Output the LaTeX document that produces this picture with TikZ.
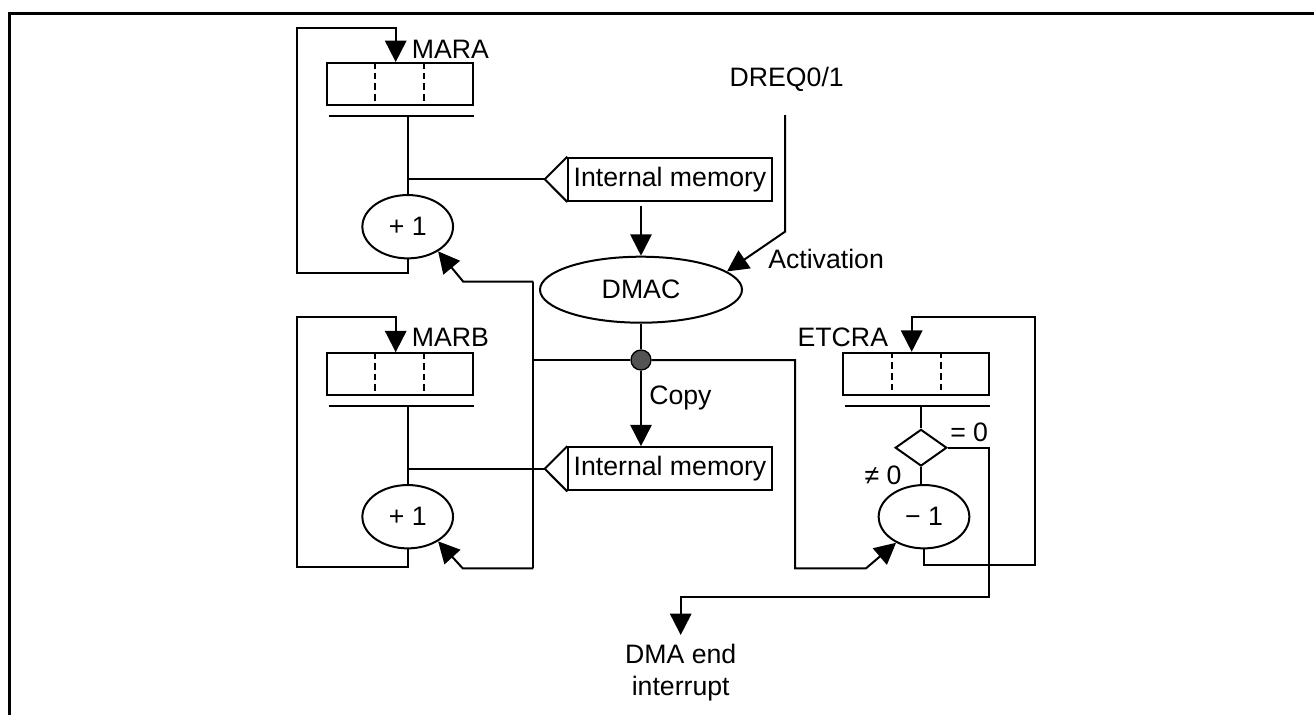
\documentclass[tikz,border=0pt]{standalone}
\usepackage{fontspec}
\setmainfont{Liberation Sans}
\usetikzlibrary{arrows.meta,calc,positioning}
\usetikzlibrary{shapes.geometric}

\tikzset{
  wire/.style={line width=1.5pt},
  arr/.style={wire,-{Triangle[length=16pt,width=16pt]}},
  reg/.style={draw,line width=1.5pt,minimum width=109.5pt,minimum height=31.5pt,inner sep=0pt},
  divider/.style={line width=1.5pt,dash pattern=on 5pt off 3pt},
  op/.style={draw,ellipse,line width=1.5pt,minimum width=68pt,minimum height=47.5pt,inner sep=0pt},
  mem/.style={draw,line width=1.5pt,minimum width=152.5pt,minimum height=32.5pt,inner sep=0pt},
  zerotest/.style={draw,diamond,line width=1.5pt,minimum width=38.7pt,minimum height=27.5pt,inner sep=0pt},
  lbl/.style={inner sep=0pt},
  dot/.style={circle,draw,fill=black!67,line width=1pt,minimum size=15pt,inner sep=0pt}
}

\begin{document}
\begin{tikzpicture}[x=0.75pt,y=-0.75pt,font=\fontsize{20}{24}\selectfont]
\useasboundingbox (0,0) rectangle (1314,715);
\draw[line width=2.25pt] (9,715) -- (9,13) -- (1314,13);

% registers, operators, memories
\node[reg] (maraReg) at (399.7,84) {};
\node[op] (maraInc) at (407.7,226.7) {+ 1};
\node[reg] (marbReg) at (399.7,374.2) {};
\node[op] (marbInc) at (407.7,516.7) {+ 1};
\node[reg] (etcraReg) at (916.2,373.8) {};
\node[zerotest] (zt) at (921,447.7) {};
\node[op] (etcraDec) at (924,516.7) {− 1};
\node[mem] (memA) at (670,179.3) {Internal memory};
\node[mem] (memB) at (670,468.8) {Internal memory};
\node[draw,ellipse,line width=1.5pt,minimum width=151.5pt,minimum height=49.5pt,inner sep=0pt] (dmac) at (641,289.7) {DMAC};
\node[dot] (jn) at (641,360) {};

% labels
\node[lbl,anchor=west] (maraLbl) at (411.7,49.3) {MARA};
\node[lbl,anchor=west] (marbLbl) at (411.7,337.3) {MARB};
\node[lbl,anchor=east] (etcraLbl) at (888.3,337.3) {ETCRA};
\node[lbl] (dreqLbl) at (786.7,79) {DREQ0/1};
\node[lbl,anchor=west] (actLbl) at (768,259) {Activation};
\node[lbl,anchor=west] (copyLbl) at (649,398) {Copy};
\node[lbl,anchor=west] (eqLbl) at (950,432.3) {= 0};
\node[lbl,anchor=east] (neLbl) at (901.7,475) {≠ 0};
\node[lbl,anchor=north,align=center,inner sep=7pt] (dmaEnd) at (680.7,635) {DMA end\\interrupt};

% register dividers and bars
\foreach \r in {maraReg,marbReg,etcraReg} {
  \foreach \f in {1/3,2/3}
    \draw[divider] ($(\r.north west)!\f!(\r.north east)$) -- ($(\r.south west)!\f!(\r.south east)$);
  \coordinate (bar\r) at ($(\r.south)+(0,10)$);
  \draw[wire] ($(\r.south west)+(3,10)$) -- ($(\r.south east)+(0,10)$);
}
% memory pointers
\foreach \m in {memA,memB}
  \draw[wire] (\m.north west) -- ($(\m.west)+(-22.6,0)$) coordinate (tip\m) -- (\m.south west);

\draw[wire] (maraInc.north |- barmaraReg) -- (maraInc.north);
\draw[wire] (maraInc.north |- tipmemA) -- (tipmemA);
\draw[wire] (marbInc.north |- barmarbReg) -- (marbInc.north);
\draw[wire] (marbInc.north |- tipmemB) -- (tipmemB);
\draw[wire] (zt.north |- baretcraReg) -- (zt.north);
\draw[wire] (zt.south) -- (zt.south |- etcraDec.north);

% loops back into the registers
\coordinate (aLoopTL) at (296.7,28.3);
\coordinate (aLoopBL) at (296.7,273);
\draw[arr] (maraInc.south) |- (aLoopBL) -- (aLoopTL) -| ($(maraReg.north)+(-4,0)$);
\coordinate (bLoopTL) at (296.7,317.3);
\coordinate (bLoopBL) at (296.7,566.7);
\draw[arr] (marbInc.south) |- (bLoopBL) -- (bLoopTL) -| ($(marbReg.north)+(-4,0)$);
\coordinate (cLoopBR) at (1035,565);
\coordinate (cLoopTR) at (1035,316.7);
\draw[arr] (etcraDec.south) |- (cLoopBR) -- (cLoopTR) -| ($(etcraReg.north)+(-4.5,0)$);

% DMAC connections
\draw[arr] ($(dmac.north |- memA.south)+(0,4)$) -- (dmac.north);
\coordinate (dreqTop) at (785,115);
\coordinate (dreqBend) at (785,231.7);
\draw[arr] (dreqTop) -- (dreqBend) -- (dmac.12);
\draw[wire] (dmac.south) -- (jn);
\draw[arr] (jn) -- (jn |- memB.north);

% bus to the counters
\coordinate (busTop) at (533.3,281.7);
\coordinate (busBot) at (533.3,568.3);
\coordinate (busR) at (795,360);
\coordinate (decFeed) at (866,568.3);
\draw[wire] (busTop) -- (busBot);
\draw[wire] (busTop |- jn) -- (jn);
\draw[arr] (busTop) -- ++(-70,0) -- (maraInc.-39);
\draw[arr] (busBot) -- ++(-70.6,0) -- (marbInc.-39);
\draw[arr] (jn) -- (busR) |- (decFeed) -- (etcraDec.-137);

% end of transfer
\coordinate (endR) at (989,596.7);
\draw[arr] (zt.east) -| (endR) -| (dmaEnd.north);
\end{tikzpicture}
\end{document}
